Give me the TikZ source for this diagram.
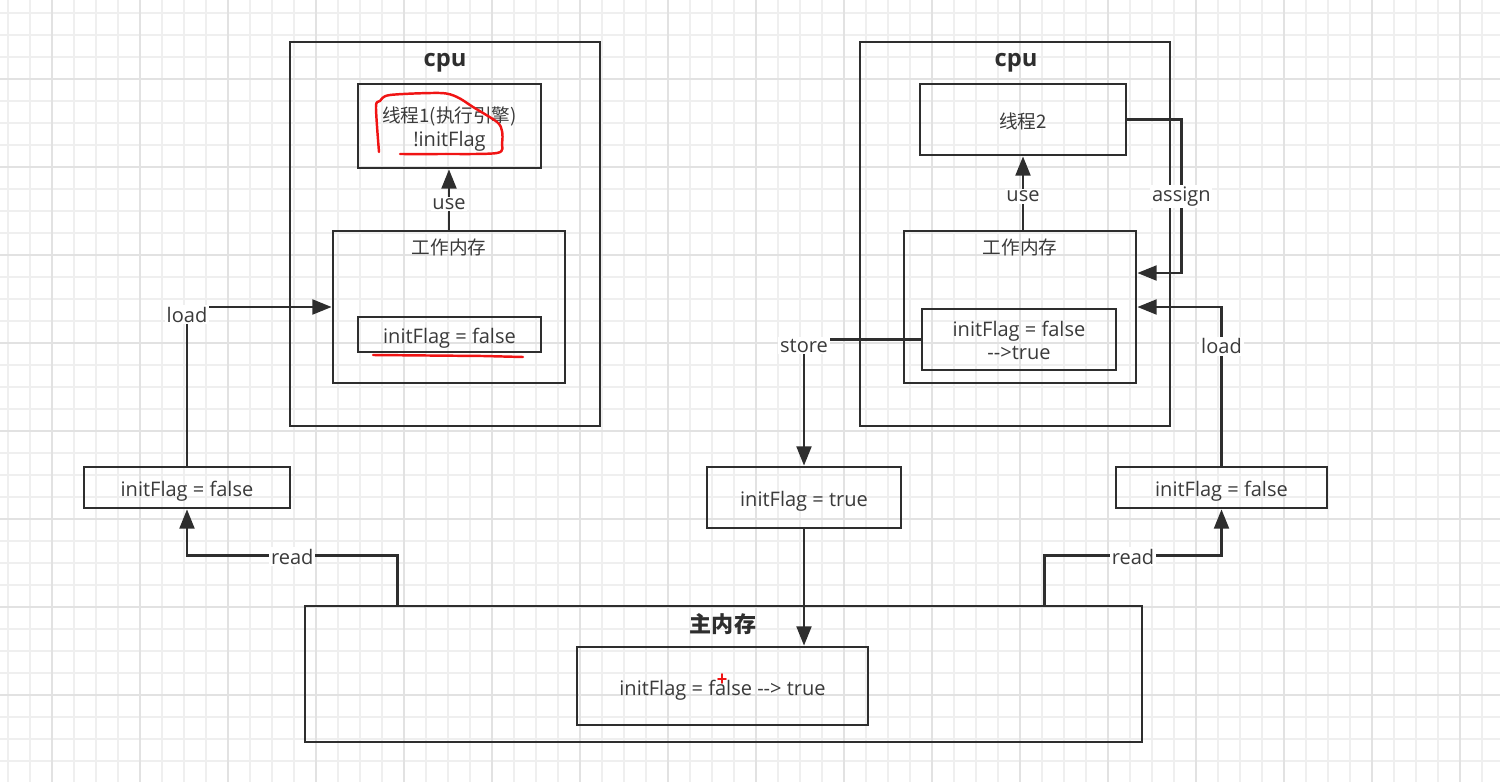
\documentclass[tikz,border=0pt]{standalone}
\usepackage{fontspec}
\setmainfont{Open Sans}
\newfontfamily\cjk[Scale=0.93]{Noto Sans CJK SC}
\usetikzlibrary{arrows.meta, positioning, calc}
\definecolor{linegray}{HTML}{2e2e2e}
\definecolor{txtgray}{HTML}{3a3a3a}
\definecolor{gridminor}{HTML}{efefef}
\definecolor{gridmajor}{HTML}{e2e2e2}
\definecolor{markred}{HTML}{f01414}
\tikzstyle{cpubox}  = [rectangle, draw=linegray, line width=1.65pt, inner sep=0pt]
\tikzstyle{membox}  = [rectangle, draw=linegray, line width=1.55pt, inner sep=0pt,
    text=txtgray, align=center, text height=12.8pt, font=\fontsize{11.4}{13.3}\selectfont]
\tikzstyle{title}   = [text=linegray, font=\bfseries\fontsize{13.5}{16}\selectfont]
\tikzstyle{tag}     = [fill=white, inner sep=1pt, text=txtgray, yshift=-0.8pt,
    font=\fontsize{11.4}{13}\selectfont]
\tikzstyle{arrow}   = [line width=1.35pt, draw=linegray, -{Triangle[length=11pt, width=8.5pt]}]
\tikzstyle{redmark} = [draw=markred, line width=1.4pt, line cap=round, line join=round]

\begin{document}
\begin{tikzpicture}[x=0.2mm, y=-0.2mm]
    \useasboundingbox (0,0) rectangle (1500,782);
    % background grid
    \foreach \g in {8,30,...,1500} \draw[gridminor, line width=0.8pt] (\g,0) -- (\g,782);
    \foreach \g in {13,35,...,782} \draw[gridminor, line width=0.8pt] (0,\g) -- (1500,\g);
    \foreach \g in {52,140,...,1500} \draw[gridmajor, line width=0.8pt] (\g,0) -- (\g,782);
    \foreach \g in {79,167,...,782} \draw[gridmajor, line width=0.8pt] (0,\g) -- (1500,\g);

    % left cpu
    \node (cpuL)      [cpubox, minimum width=62mm, minimum height=76.8mm] at (445,234) {};
    \node (cpuLtitle) [title] at (445,63) {cpu};
    \node (thread1)   [membox, minimum width=36.6mm, minimum height=16.8mm, text height=25.6pt] at (449.5,126)
        {{\cjk 线程1(执行引擎)}\\!initFlag};
    \node (workL)     [membox, minimum width=46.4mm, minimum height=30.4mm] at (449,307) {};
    \node (workLtitle)[tag, fill=none] at (449,246) {\cjk 工作内存};
    \node (flagL)     [membox, minimum width=36.6mm, minimum height=7mm] at (449.5,334.5) {initFlag = false};
    \node (readLbox)  [membox, minimum width=41.2mm, minimum height=8.2mm] at (187,487.5) {initFlag = false};

    % right cpu
    \node (cpuR)      [cpubox, minimum width=62mm, minimum height=76.8mm] at (1015,234) {};
    \node (cpuRtitle) [title] at (1016,63) {cpu};
    \node (thread2)   [membox, minimum width=41.2mm, minimum height=14.2mm, text height=11.5pt] at (1023,119.5) {\cjk 线程2};
    \node (workR)     [membox, minimum width=46.4mm, minimum height=30.4mm] at (1020,307) {};
    \node (workRtitle)[tag, fill=none] at (1020,246) {\cjk 工作内存};
    \node (flagR)     [membox, minimum width=38.8mm, minimum height=12.2mm, text height=23.4pt] at (1019,339.5)
        {initFlag = false\\-{}->true};
    \node (trueBox)   [membox, minimum width=38.8mm, minimum height=12.2mm] at (804,497.5) {initFlag = true};
    \node (readRbox)  [membox, minimum width=42.2mm, minimum height=8.2mm] at (1221.5,487.5) {initFlag = false};

    % main memory
    \node (mainMem)   [cpubox, minimum width=167.4mm, minimum height=27.2mm] at (723.5,674) {};
    \node (mainTitle) [title] at (723,624) {\cjk 主内存};
    \node (mainFlag)  [membox, minimum width=58.2mm, minimum height=15.6mm, text height=13.3pt] at (722.5,686)
        {initFlag = false -{}-> true};

    % connectors
    \draw [arrow] (workL.north) -- node[tag, pos=0.45]{use} (workL.north |- thread1.south);
    \draw [arrow] (thread2.south |- workR.north) -- node[tag, pos=0.47]{use} (thread2.south);
    \draw [arrow] (readLbox.north) |- node[tag, pos=0.48]{load} (workL.west);
    \draw [arrow] (readRbox.north) |- node[tag, pos=0.38]{load} (workR.east);
    \draw [arrow] (thread2.east) -- ++(54,0) |- node[tag, pos=0.245]{assign} ([yshift=6.8mm]workR.east);
    \draw [arrow] (flagR.west) -| node[tag, pos=0.52]{store} (trueBox.north);
    \draw [arrow] (trueBox.south) -- (trueBox.south |- mainFlag.north);
    \draw [arrow] ([xshift=18.8mm]mainMem.north west) -- ++(0,-49) -| node[tag, pos=0.25]{read} (readLbox.south);
    \draw [arrow] ([xshift=-19.8mm]mainMem.north east) -- ++(0,-49) -| node[tag, pos=0.25]{read} (readRbox.south);

    % red pen marks
    \draw [redmark] plot[smooth] coordinates {(379,152) (376,107) (380,101) (390,95) (440,93) (457,97)
        (473,107) (497,122) (502,131) (502,143) (497,153) (440,154) (400,154)};
    \draw [redmark] (373,355) -- (483,356) -- (523,357);
    \draw [redmark, line width=1pt] (718,679) -- (726,679) (722,674) -- (722,683);
\end{tikzpicture}
\end{document}
